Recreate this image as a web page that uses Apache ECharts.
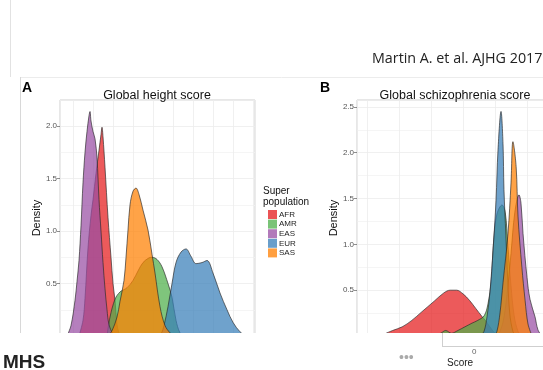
<!DOCTYPE html>
<html>
<head>
<meta charset="utf-8">
<script src="https://cdn.jsdelivr.net/npm/echarts@6/dist/echarts.min.js"></script>
<style>
  html, body { margin: 0; padding: 0; background: #fff; }
  #chart { width: 543px; height: 370px; }
</style>
</head>
<body>
<div id="chart"></div>
<script>
// super populations, drawn in this order (SAS on top)
const groups = ['AFR', 'AMR', 'EAS', 'EUR', 'SAS']
const groupColors = ['#E41A1C', '#4DAF4A', '#984EA3', '#377EB8', '#FF7F00']

// A: global height score, [score, density]
const heightAFR = [[-1.85,0],[-1.75,0.15],[-1.7,0.36],[-1.625,0.84],[-1.55,1.15],[-1.5,1.3],[-1.425,1.55],[-1.35,1.77],[-1.3,1.92],[-1.275,1.99],[-1.25,1.9],[-1.2,1.61],[-1.125,1.13],[-1.05,0.75],[-1.0,0.5],[-0.95,0.34],[-0.9,0.11],[-0.85,0.03],[-0.8,0]]
const heightAMR = [[-1.15,0],[-1.075,0.18],[-0.95,0.35],[-0.825,0.42],[-0.65,0.46],[-0.5,0.53],[-0.375,0.62],[-0.25,0.7],[-0.1,0.745],[-0.025,0.75],[0.1,0.73],[0.225,0.66],[0.375,0.5],[0.475,0.37],[0.575,0.15],[0.675,0.03],[0.775,0]]
const heightEAS = [[-2.15,0],[-2.05,0.1],[-1.95,0.34],[-1.9,0.52],[-1.85,0.72],[-1.8,1.05],[-1.75,1.46],[-1.7,1.75],[-1.65,1.95],[-1.6,2.1],[-1.575,2.14],[-1.55,2.05],[-1.5,1.95],[-1.45,1.88],[-1.4,1.7],[-1.35,1.3],[-1.3,1.0],[-1.25,0.7],[-1.2,0.45],[-1.15,0.25],[-1.1,0.11],[-1.0,0.02],[-0.9,0]]
const heightEUR = [[0.1,0],[0.2,0.02],[0.275,0.1],[0.375,0.28],[0.475,0.5],[0.575,0.7],[0.7,0.8],[0.825,0.83],[0.95,0.76],[1.075,0.69],[1.225,0.7],[1.35,0.72],[1.5,0.6],[1.675,0.41],[1.85,0.25],[2.0,0.13],[2.175,0.04],[2.325,0]]
const heightSAS = [[-1.125,0],[-1.025,0.05],[-0.9,0.18],[-0.825,0.33],[-0.725,0.53],[-0.675,0.75],[-0.625,1.01],[-0.575,1.25],[-0.5,1.38],[-0.425,1.41],[-0.35,1.35],[-0.25,1.2],[-0.125,1.01],[-0.025,0.78],[0.05,0.6],[0.175,0.28],[0.3,0.1],[0.425,0.03],[0.525,0]]

// B: global schizophrenia score, [score, density]
const sczAFR = [[-1.3,0],[-1.1,0.06],[-0.95,0.1],[-0.8,0.17],[-0.65,0.26],[-0.55,0.32],[-0.45,0.38],[-0.3,0.47],[-0.2,0.5],[-0.1,0.5],[0,0.46],[0.1,0.39],[0.2,0.3],[0.3,0.21],[0.35,0.17],[0.42,0.1],[0.5,0.03],[0.58,0]]
const sczAMR = [[-0.5,0],[-0.35,0.03],[-0.27,0.06],[-0.18,0.03],[-0.08,0.06],[0.03,0.1],[0.14,0.14],[0.23,0.17],[0.33,0.22],[0.39,0.35],[0.44,0.6],[0.48,1.05],[0.53,1.33],[0.61,1.43],[0.66,1.35],[0.7,1.0],[0.75,0.55],[0.8,0.22],[0.86,0.05],[0.92,0]]
const sczEAS = [[0.547,0],[0.625,0.15],[0.6875,0.45],[0.75,0.9],[0.81,1.35],[0.875,1.54],[0.906,1.45],[0.9375,1.12],[1.0,0.64],[1.047,0.4],[1.125,0.21],[1.17,0.07],[1.23,0]]
const sczEUR = [[0.266,0],[0.328,0.05],[0.375,0.21],[0.42,0.47],[0.47,0.94],[0.516,1.48],[0.547,2.03],[0.594,2.45],[0.625,2.1],[0.64,1.6],[0.67,1.1],[0.7,0.6],[0.73,0.25],[0.78,0.05],[0.83,0]]
const sczSAS = [[0.484,0],[0.53,0.05],[0.578,0.25],[0.625,0.58],[0.703,1.12],[0.75,1.67],[0.78,2.12],[0.83,1.85],[0.86,1.3],[0.92,0.75],[0.97,0.39],[1.016,0.13],[1.08,0]]

const heightData = [heightAFR, heightAMR, heightEAS, heightEUR, heightSAS]
const sczData = [sczAFR, sczAMR, sczEAS, sczEUR, sczSAS]

const font = 'Liberation Sans, Arial, sans-serif'
const gridLine = { lineStyle: { color: '#ececec', width: 0.8 } }

function densitySeries(data, idx) {
  return groups.map((g, i) => ({
    name: g,
    type: 'line',
    xAxisIndex: idx,
    yAxisIndex: idx,
    data: data[i],
    smooth: 0.35,
    showSymbol: false,
    silent: true,
    itemStyle: { color: groupColors[i], opacity: 0.75 },
    lineStyle: { color: '#2b2b2b', width: 0.8, opacity: 0.85 },
    areaStyle: { color: groupColors[i], opacity: 0.72 },
    z: 2 + i
  }))
}

function yAxis(idx, max) {
  return {
    type: 'value', gridIndex: idx, min: 0, max: max, interval: 0.5,
    name: 'Density', nameLocation: 'middle', nameGap: 17,
    nameTextStyle: { fontFamily: font, fontSize: 11, color: '#111' },
    axisLine: { show: false, onZero: false },
    axisTick: { show: true, length: 3, lineStyle: { color: '#444', width: 0.6 } },
    axisLabel: {
      fontFamily: font, fontSize: 8, color: '#555', margin: 3, showMaxLabel: false,
      formatter: v => Math.abs(v * 2 - Math.round(v * 2)) < 1e-6 ? v.toFixed(1) : ''
    },
    splitLine: gridLine,
    minorTick: { show: false, splitNumber: 2 },
    minorSplitLine: { show: true, lineStyle: { color: '#f2f2f2', width: 0.8 } }
  }
}

function xAxis(idx, min, max, n) {
  return {
    type: 'value', gridIndex: idx, min: min, max: max, splitNumber: n,
    axisLine: { show: false, onZero: false }, axisTick: { show: false }, axisLabel: { show: false },
    splitLine: gridLine
  }
}

const chart = echarts.init(document.getElementById('chart'))
chart.setOption({
  animation: false,
  backgroundColor: '#fff',
  title: [
    { text: 'Global height score', left: 152, top: 84, textAlign: 'center',
      textStyle: { fontFamily: font, fontSize: 12.5, fontWeight: 'normal', color: '#111' } },
    { text: 'Global schizophrenia score', left: 450, top: 84, textAlign: 'center',
      textStyle: { fontFamily: font, fontSize: 12.5, fontWeight: 'normal', color: '#111' } }
  ],
  grid: [
    { left: 60, top: 100, width: 195, height: 236, show: true, borderColor: '#cfcfcf', borderWidth: 1, outerBoundsMode: 'none' },
    { left: 357, top: 100, width: 226, height: 236, show: true, borderColor: '#cfcfcf', borderWidth: 1, outerBoundsMode: 'none' }
  ],
  xAxis: [xAxis(0, -2.325, 2.55, 10), xAxis(1, -1.65625, 1.875, 7)],
  yAxis: [yAxis(0, 2.25), yAxis(1, 2.575)],
  legend: {
    data: groups,
    orient: 'vertical',
    left: 263, top: 205,
    icon: 'rect', itemWidth: 9, itemHeight: 9, itemGap: 0.6,
    selectedMode: false,
    textStyle: { fontFamily: font, fontSize: 8, color: '#222', padding: [0, 0, 0, -3], lineHeight: 9 },
    itemStyle: { opacity: 0.75 }
  },
  series: [...densitySeries(heightData, 0), ...densitySeries(sczData, 1)],
  graphic: [
    { type: 'line', shape: { x1: 10.5, y1: 0, x2: 10.5, y2: 77 }, style: { stroke: '#e2e2e2', lineWidth: 1 } },
    { type: 'line', shape: { x1: 20, y1: 77.5, x2: 543, y2: 77.5 }, style: { stroke: '#ececec', lineWidth: 1 } },
    { type: 'line', shape: { x1: 20.5, y1: 77, x2: 20.5, y2: 333 }, style: { stroke: '#d8d8d8', lineWidth: 1 } },
    { type: 'text', left: 372, top: 52, style: { text: 'Martin A. et al. AJHG 2017', fontFamily: 'Open Sans, sans-serif', fontSize: 14.3, fill: '#222' } },
    { type: 'text', left: 22, top: 81, style: { text: 'A', fontFamily: font, fontSize: 14, fontWeight: 'bold', fill: '#000' } },
    { type: 'text', left: 320, top: 81, style: { text: 'B', fontFamily: font, fontSize: 14, fontWeight: 'bold', fill: '#000' } },
    { type: 'text', left: 263, top: 186, style: { text: 'Super\npopulation', fontFamily: font, fontSize: 10, lineHeight: 10.5, fill: '#111' } },
    // bottom of the slide covers the lower edge of the plots
    { type: 'rect', shape: { x: 0, y: 333, width: 543, height: 37 }, style: { fill: '#fff' }, z: 100 },
    { type: 'line', shape: { x1: 442.5, y1: 333, x2: 442.5, y2: 346 }, style: { stroke: '#cfcfcf', lineWidth: 1 }, z: 101 },
    { type: 'line', shape: { x1: 442, y1: 346.5, x2: 543, y2: 346.5 }, style: { stroke: '#cfcfcf', lineWidth: 1 }, z: 101 },
    { type: 'text', left: 472, top: 348, style: { text: '0', fontFamily: font, fontSize: 8, fill: '#666' }, z: 101 },
    { type: 'text', left: 447, top: 358, style: { text: 'Score', fontFamily: font, fontSize: 10, fill: '#222' }, z: 101 },
    { type: 'text', left: 399, top: 351, style: { text: '\u2022\u2022\u2022', fontFamily: font, fontSize: 14, fill: '#aaa' }, z: 101 },
    { type: 'text', left: 3, top: 353, style: { text: 'MHS', fontFamily: font, fontSize: 19, fontWeight: 'bold', fill: '#222' }, z: 101 }
  ]
})
</script>
</body>
</html>
